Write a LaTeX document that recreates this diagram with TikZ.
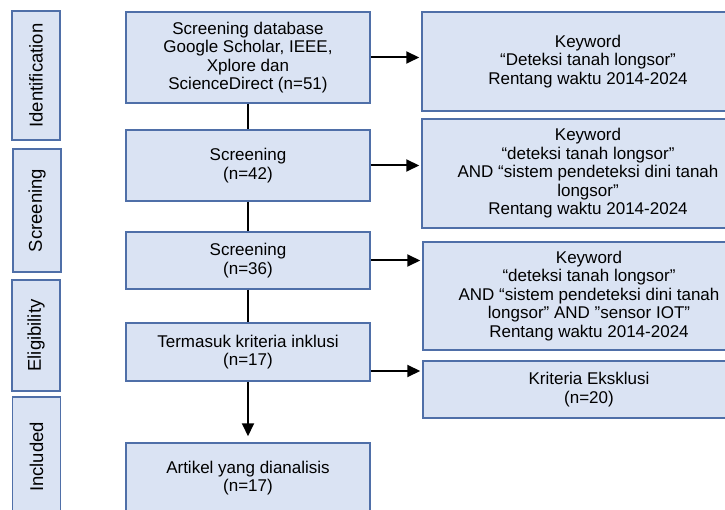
\documentclass[tikz,border=0pt]{standalone}
\usepackage{fontspec}
\setmainfont{Liberation Sans}
\usetikzlibrary{arrows.meta}

\definecolor{boxfill}{HTML}{DAE3F3}
\definecolor{boxline}{HTML}{4F6FA8}

\begin{document}
\begin{tikzpicture}[
  x=1pt, y=-1pt,
  box/.style={rectangle, draw=boxline, fill=boxfill, line width=1.5pt,
    align=center, inner sep=2pt, font=\fontsize{17}{18.5}\selectfont},
  phase/.style={box, rotate=90, minimum height=48pt,
    font=\fontsize{18.5}{20}\selectfont},
  flow/.style={box, minimum width=244pt},
  note/.style={box, minimum width=332pt},
  link/.style={line width=2pt, black},
  arr/.style={link, -{Triangle[length=13pt,width=12pt]}, shorten >=2pt},
]

% Canvas
\clip (0,0) rectangle (725,510);
\useasboundingbox (0,0) rectangle (725,510);

% Phase labels
\node[phase, minimum width=129pt] (ident) at (36, 75.5) {Identification};
\node[phase, minimum width=123pt] (screen) at (37, 210.5) {Screening};
\node[phase, minimum width=111pt] (elig) at (36, 335.5) {Eligibility};
\node[phase, minimum width=120pt] (incl) at (36.5, 457) {Included};

% Main flow
\node[flow, minimum height=91pt] (db) at (248, 57.5)
  {Screening database\\Google Scholar, IEEE,\\Xplore dan\\ScienceDirect (n=51)};
\node[flow, minimum height=71pt] (scrA) at (248, 165.5) {Screening\\(n=42)};
\node[flow, minimum height=57pt] (scrB) at (248, 260.5) {Screening\\(n=36)};
\node[flow, minimum height=58pt] (inkl) at (248, 352) {Termasuk kriteria inklusi\\(n=17)};
\node[flow, minimum height=70pt] (final) at (248, 478) {Artikel yang dianalisis\\(n=17)};

% Keyword notes
\node[note, minimum height=99pt] (kwA) at (588, 61.5)
  {Keyword\\“Deteksi tanah longsor”\\Rentang waktu 2014-2024};
\node[note, minimum height=109pt] (kwB) at (588, 173.5)
  {Keyword\\“deteksi tanah longsor”\\AND “sistem pendeteksi dini tanah\\longsor”\\Rentang waktu 2014-2024};
\node[note, minimum height=108pt] (kwC) at (589, 296)
  {Keyword\\“deteksi tanah longsor”\\AND “sistem pendeteksi dini tanah\\longsor” AND ”sensor IOT”\\Rentang waktu 2014-2024};
\node[note, minimum height=57pt] (eksl) at (589, 389.5) {Kriteria Eksklusi\\(n=20)};

% Vertical connectors
\draw[link] (db) -- (scrA);
\draw[link] (scrA) -- (scrB);
\draw[link] (scrB) -- (inkl);
\draw[arr, shorten >=6pt] (inkl) -- (final);

% Side arrows
\draw[arr] (db.east) -- (db.east -| kwA.west);
\draw[arr] (scrA.east) -- (scrA.east -| kwB.west);
\draw[arr] (scrB.east) -- (scrB.east -| kwC.west);
\draw[arr] ([yshift=-19pt]inkl.east) -- ([yshift=-19pt]inkl.east -| eksl.west);

\end{tikzpicture}
\end{document}
